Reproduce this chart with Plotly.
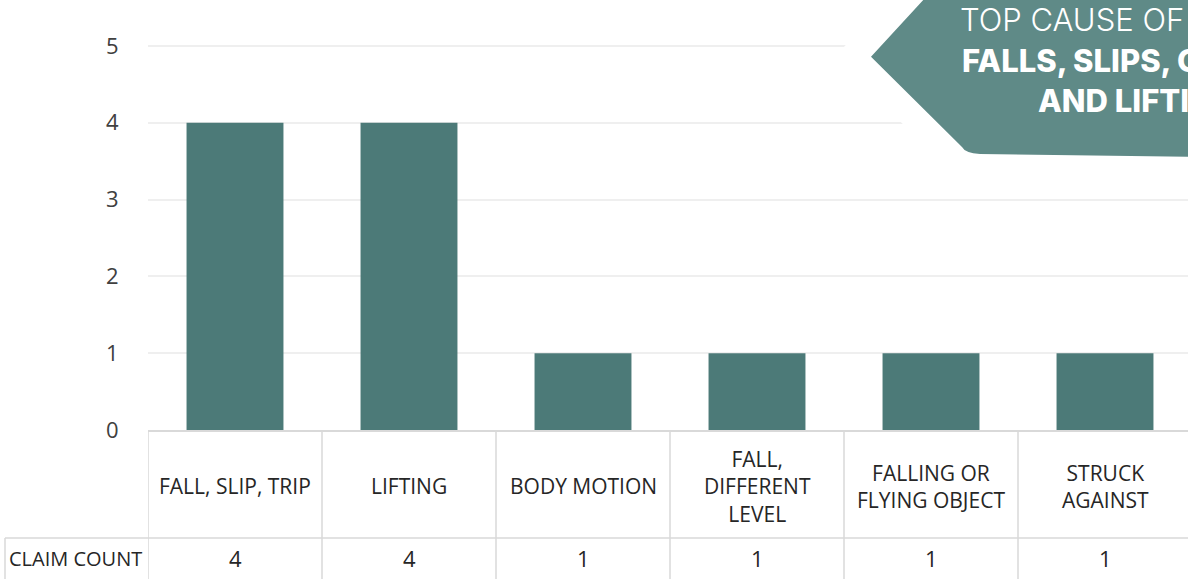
import plotly.graph_objects as go

categories = ["FALL, SLIP, TRIP", "LIFTING", "BODY MOTION", "FALL, DIFFERENT LEVEL",
              "FALLING OR FLYING OBJECT", "STRUCK AGAINST"]
cat_labels = ["FALL, SLIP, TRIP", "LIFTING", "BODY MOTION", "FALL,<br>DIFFERENT<br>LEVEL",
              "FALLING OR<br>FLYING OBJECT", "STRUCK<br>AGAINST"]
claim_count = [4, 4, 1, 1, 1, 1]
row_label = "CLAIM COUNT"
callout_lines = ["TOP CAUSE OF", "FALLS, SLIPS, O", "AND LIFTI"]

W, H = 1188, 579
L, T, B = 148, 42, 149
BAR = "#4C7A78"
CALLOUT = "#5F8A87"
LINE = "#D9D9D9"
TXT = "#262626"


def px(x):
    return (x - L) / (W - L)


def py(y):
    # paper y from pixel y, using the 0..5 span (430 -> 46)
    return (430 - y) / 384 * (5 / 5.05)


fig = go.Figure(go.Bar(x=categories, y=claim_count, marker_color=BAR, marker_line_width=0))

shapes = []
# table grid lines
for i in range(len(categories) + 1):
    shapes.append(dict(type="line", xref="x", yref="paper", x0=i - 0.5, x1=i - 0.5,
                       y0=py(H + 2), y1=0, line=dict(color=LINE, width=1.5)))
shapes.append(dict(type="line", xref="paper", yref="paper", x0=px(5), x1=1.02,
                   y0=py(538), y1=py(538), line=dict(color=LINE, width=1.5)))
shapes.append(dict(type="line", xref="paper", yref="paper", x0=px(5), x1=px(5),
                   y0=py(H + 2), y1=py(538), line=dict(color=LINE, width=1.5)))


# callout: white margin then teal arrow
def arrow(dx):
    pts = [(871 - dx, 57), (928 - dx, -5), (1200, -5), (1200, 157), (980, 154)]
    p = f"M {px(pts[0][0])},{py(pts[0][1])} L {px(pts[1][0])},{py(pts[1][1])} "
    p += f"L {px(pts[2][0])},{py(pts[2][1])} L {px(pts[3][0])},{py(pts[3][1])} "
    p += f"L {px(pts[4][0])},{py(pts[4][1])} Q {px(965 - dx)},{py(153)} {px(962 - dx)},{py(147)} Z"
    return p


shapes.append(dict(type="path", xref="paper", yref="paper", path=arrow(36),
                   fillcolor="white", line=dict(width=0), layer="above"))
shapes.append(dict(type="path", xref="paper", yref="paper", path=arrow(0),
                   fillcolor=CALLOUT, line=dict(width=0), layer="above"))

annotations = []
for c, lab, v in zip(categories, cat_labels, claim_count):
    annotations.append(dict(x=c, xref="x", y=py(486), yref="paper", text=lab, showarrow=False,
                            yanchor="middle", font=dict(family="Open Sans", size=21, color=TXT)))
    annotations.append(dict(x=c, xref="x", y=py(558), yref="paper", text=str(v), showarrow=False,
                            yanchor="middle", font=dict(family="Open Sans", size=22, color=TXT)))
annotations.append(dict(x=px(75), xref="paper", y=py(558), yref="paper", text=row_label,
                        showarrow=False, xanchor="center", yanchor="middle",
                        font=dict(family="Open Sans", size=20, color=TXT)))

for txt, x, y, wt in [(callout_lines[0], 958, 20, 300), (callout_lines[1], 960, 61, 800),
                      (callout_lines[2], 1036, 101, 800)]:
    annotations.append(dict(x=px(x), xref="paper", y=py(y), yref="paper", text=txt,
                            showarrow=False, xanchor="left", yanchor="middle",
                            font=dict(family="Inter", size=31, color="white", weight=wt)))

fig.update_layout(
    width=W, height=H,
    margin=dict(l=L, r=0, t=T, b=B),
    plot_bgcolor="white", paper_bgcolor="white",
    bargap=0.443,
    showlegend=False,
    shapes=shapes,
    annotations=annotations,
    xaxis=dict(range=[-0.5, 5.477], showticklabels=False, showgrid=False,
               showline=True, linecolor=LINE, linewidth=1.5, fixedrange=True),
    yaxis=dict(range=[0, 5.05], tickvals=[0, 1, 2, 3, 4, 5], showgrid=True,
               gridcolor="#EFEFEF", gridwidth=1.5,
               zeroline=False, ticks="outside", ticklen=24, tickcolor="rgba(0,0,0,0)",
               tickfont=dict(family="Open Sans", size=22, color="#404040"), fixedrange=True),
)

fig.write_html("out.html", config={"displayModeBar": False},
               post_script="document.body.style.margin='0px';")
